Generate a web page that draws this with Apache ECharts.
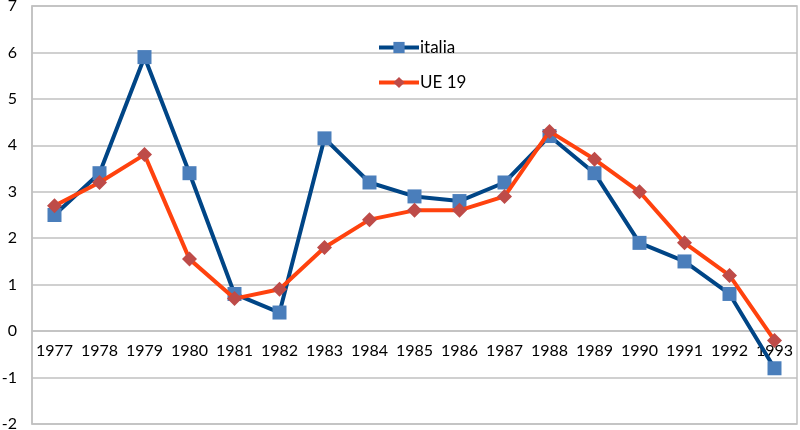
<!DOCTYPE html>
<html><head><meta charset="utf-8">
<script src="https://cdn.jsdelivr.net/npm/echarts@6/dist/echarts.min.js"></script>
<style>html,body{margin:0;padding:0;background:#fff}#c{width:800px;height:430px}</style>
</head><body><div id="c"></div>
<script>
const years = ['1977','1978','1979','1980','1981','1982','1983','1984','1985','1986','1987','1988','1989','1990','1991','1992','1993'];
const italia = [2.5,3.4,5.9,3.4,0.8,0.4,4.15,3.2,2.9,2.8,3.2,4.2,3.4,1.9,1.5,0.8,-0.8];
const ue19 = [2.7,3.2,3.8,1.55,0.7,0.9,1.8,2.4,2.6,2.6,2.9,4.3,3.7,3.0,1.9,1.2,-0.2];
const yTicks = {min:-2, max:7, interval:1};
const font = 'Lato, "Open Sans", sans-serif';
const gridTop = 6, gridBottom = 6, H = 430;
const plotH = H - gridTop - gridBottom;
const zeroOffset = -plotH * (0 - yTicks.min) / (yTicks.max - yTicks.min);
const chart = echarts.init(document.getElementById('c'));
chart.setOption({
  animation:false,
  grid:{left:32,right:3,top:gridTop,bottom:gridBottom,show:true,borderColor:'#c0c0c0',borderWidth:1.5,containLabel:false,outerBoundsMode:'none'},
  legend:{orient:'vertical',left:372,top:34,itemGap:18,itemWidth:40,itemHeight:14,
    lineStyle:{width:4},
    textStyle:{fontFamily:font,fontSize:17,color:'#000',padding:[0,0,0,-4]},
    data:['italia','UE 19']},
  xAxis:{type:'category',data:years,boundaryGap:true,offset:zeroOffset,
    axisLine:{onZero:false,lineStyle:{color:'#c0c0c0',width:1.5}},
    axisTick:{show:false},
    axisLabel:{fontFamily:font,fontSize:16,color:'#000',margin:12,interval:0}},
  yAxis:{type:'value',min:yTicks.min,max:yTicks.max,interval:yTicks.interval,
    axisLine:{show:true,lineStyle:{color:'#c0c0c0',width:1.5}},
    axisTick:{show:false},
    splitLine:{lineStyle:{color:'#c0c0c0',width:1.5}},
    axisLabel:{fontFamily:font,fontSize:16,color:'#000',margin:15}},
  series:[
    {name:'italia',type:'line',data:italia,symbol:'rect',symbolSize:14,
     lineStyle:{color:'#004586',width:4},itemStyle:{color:'#4a7ebb'},z:2},
    {name:'UE 19',type:'line',data:ue19,symbol:'diamond',symbolSize:[15,15],
     lineStyle:{color:'#ff420e',width:4},itemStyle:{color:'#be4b48'},z:3}
  ]
});
</script></body></html>
